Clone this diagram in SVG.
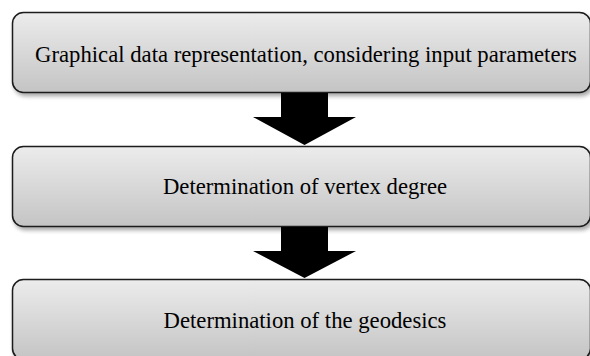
<svg xmlns="http://www.w3.org/2000/svg" width="590" height="356" viewBox="0 0 590 356">
  <defs>
    <linearGradient id="boxFill" x1="0" y1="0" x2="0" y2="1">
      <stop offset="0" stop-color="#ececec"/>
      <stop offset="1" stop-color="#c4c4c4"/>
    </linearGradient>
    <filter id="shadow" x="-5%" y="-20%" width="110%" height="150%">
      <feGaussianBlur in="SourceAlpha" stdDeviation="2"/>
      <feOffset dx="2" dy="3" result="b"/>
      <feComponentTransfer><feFuncA type="linear" slope="0.35"/></feComponentTransfer>
      <feMerge><feMergeNode/><feMergeNode in="SourceGraphic"/></feMerge>
    </filter>
  </defs>
  <style>
    .box { fill: url(#boxFill); stroke: #1a1a1a; stroke-width: 1.5; filter: url(#shadow); }
    .label { font-family: 'Liberation Serif', 'DejaVu Serif', serif; font-size: 22.7px; fill: #000; text-anchor: middle; }
    .arrow { fill: #000; }
  </style>
  <rect width="590" height="356" fill="#fff"/>

  <g id="step1">
    <rect class="box" x="12.5" y="12.5" width="578" height="80" rx="11"/>
    <text class="label" x="306" y="62">Graphical data representation, considering input parameters</text>
  </g>

  <g id="step2">
    <rect class="box" x="12.5" y="146.5" width="578" height="80" rx="11"/>
    <text class="label" x="305" y="194">Determination of vertex degree</text>
  </g>

  <g id="step3">
    <rect class="box" x="12.5" y="279.5" width="578" height="80" rx="11"/>
    <text class="label" x="305" y="328">Determination of the geodesics</text>
  </g>

  <g id="connectors">
    <polygon class="arrow" points="281,93 328,93 328,117 356,117 304.5,145 253,117 281,117"/>
    <polygon class="arrow" points="281,227 328,227 328,251 356,251 304.5,278 253,251 281,251"/>
  </g>
</svg>
